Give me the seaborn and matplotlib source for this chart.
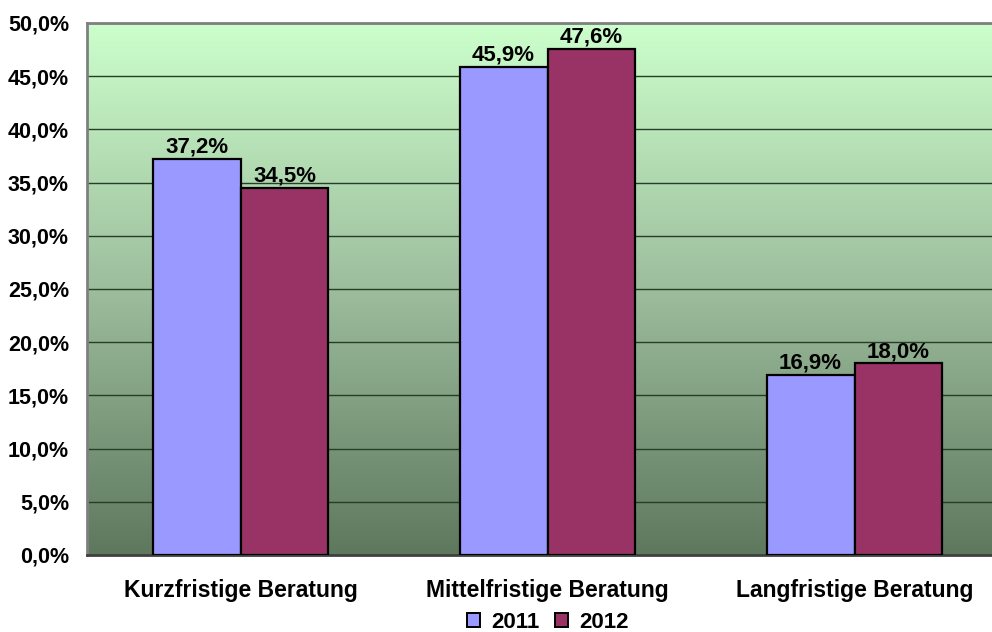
import numpy as np
import pandas as pd
import matplotlib.pyplot as plt
import matplotlib.ticker as mticker
from matplotlib.colors import LinearSegmentedColormap
from matplotlib.patches import Patch
import seaborn as sns

# data
categories = ["Kurzfristige Beratung", "Mittelfristige Beratung", "Langfristige Beratung"]
years = ["2011", "2012"]
values_2011 = [37.2, 45.9, 16.9]
values_2012 = [34.5, 47.6, 18.0]
yticks = [0, 5, 10, 15, 20, 25, 30, 35, 40, 45, 50]

colors = {"2011": "#9999FF", "2012": "#993366"}
font_size = 16
xtick_size = 16.5
ytick_size = 15.5

sns.set_style("white")
plt.rcParams["font.family"] = ["Liberation Sans", "DejaVu Sans"]
plt.rcParams["font.weight"] = "bold"
plt.rcParams["text.color"] = "black"
plt.rcParams["xtick.color"] = "black"
plt.rcParams["ytick.color"] = "black"

df = pd.DataFrame({
    "Kategorie": categories * 2,
    "Jahr": ["2011"] * 3 + ["2012"] * 3,
    "Wert": values_2011 + values_2012,
})

fig = plt.figure(figsize = (9.92, 6.32), dpi = 100)
# plot area runs past the right edge like in the original
ax = fig.add_axes([87 / 992, 77 / 632, 921 / 992, 532 / 632])

# green gradient background
cmap = LinearSegmentedColormap.from_list("bg", ["#5E785E", "#9DBD9D", "#CCFFCC"])
grad = np.linspace(0, 1, 256).reshape(-1, 1)
ax.imshow(grad, cmap = cmap, aspect = "auto", origin = "lower",
          extent = [-0.5, 2.5, 0, 50], zorder = 0)

sns.barplot(
    data = df, x = "Kategorie", y = "Wert", hue = "Jahr",
    palette = colors, saturation = 1, width = 0.573, gap = 0,
    edgecolor = "black", linewidth = 1.6,
    legend = False, ax = ax, zorder = 3,
)

# value labels
for cont in ax.containers:
    ax.bar_label(cont, labels = [f"{v:.1f}%".replace(".", ",") for v in cont.datavalues],
                 padding = 1, fontsize = font_size, fontweight = "bold", color = "black", zorder = 4)

ax.set_xlim(-0.5, 2.5)
ax.set_ylim(0, 50)
ax.set_yticks(yticks)
ax.yaxis.set_major_formatter(mticker.FuncFormatter(lambda v, p: f"{v:.1f}%".replace(".", ",")))
ax.grid(axis = "y", color = "#263D26", linewidth = 1.0, zorder = 1)
ax.set_axisbelow(True)

ax.set_xlabel("")
ax.set_ylabel("")
ax.tick_params(axis = "x", which = "major", length = 0, pad = 17, labelsize = xtick_size, labelcolor = "black")
ax.xaxis.set_minor_locator(mticker.FixedLocator([-0.5, 0.5, 1.5, 2.5]))
ax.tick_params(axis = "x", which = "minor", length = 5, color = "#808080", width = 1.2)
ax.tick_params(axis = "y", length = 0, pad = 13, labelsize = ytick_size, labelcolor = "black")
for lbl in ax.get_xticklabels() + ax.get_yticklabels():
    lbl.set_fontweight("bold")

for side in ["top", "left", "right"]:
    ax.spines[side].set_color("#808080")
    ax.spines[side].set_linewidth(2)
ax.spines["bottom"].set_color("#404040")
ax.spines["bottom"].set_linewidth(2)

handles = [Patch(facecolor = colors[y], edgecolor = "black", linewidth = 1.4) for y in years]
fig.legend(handles, years, loc = "center", bbox_to_anchor = (548 / 992, 10 / 632),
           ncol = 2, frameon = False, handlelength = 0.6,
           handleheight = 0.6, handletextpad = 0.5, columnspacing = 0.7,
           prop = {"weight": "bold", "size": font_size})

fig.savefig("out.png", dpi = 100)
